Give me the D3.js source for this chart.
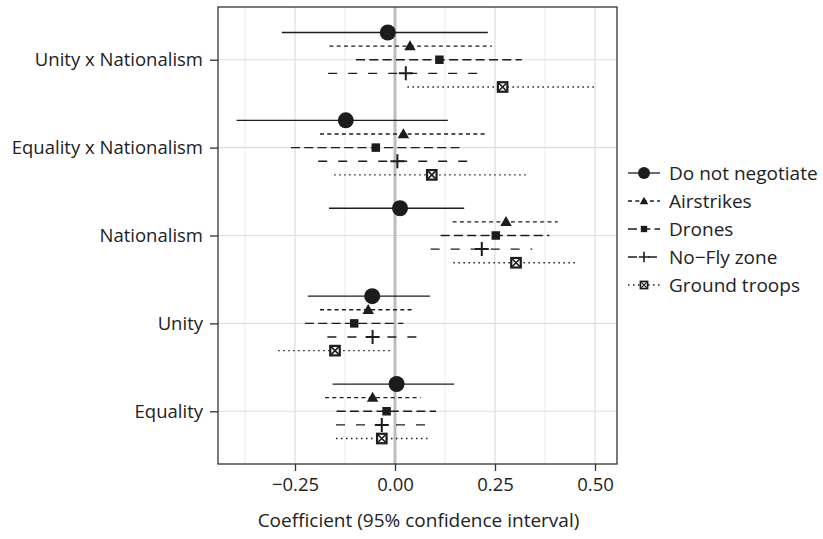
<!DOCTYPE html>
<html>
<head>
<meta charset="utf-8">
<script src="https://cdn.jsdelivr.net/npm/d3@7"></script>
<style>
  html, body { margin: 0; padding: 0; background: #fff; }
  svg { display: block; }
  text { font-family: "Open Sans", "Noto Sans", sans-serif; fill: #222; }
</style>
</head>
<body>
<svg id="chart" width="823" height="539"></svg>
<script>
// Predictors, listed bottom to top
const categories = ["Equality", "Unity", "Nationalism", "Equality x Nationalism", "Unity x Nationalism"];
const seriesNames = ["Do not negotiate", "Airstrikes", "Drones", "No\u2212Fly zone", "Ground troops"];

// Point estimates per series, in category order
const estDoNotNegotiate = [0.004, -0.057, 0.0125, -0.123, -0.018];
const estAirstrikes     = [-0.056, -0.067, 0.2775, 0.021, 0.0375];
const estDrones         = [-0.021, -0.102, 0.252, -0.048, 0.111];
const estNoFly          = [-0.033, -0.056, 0.217, 0.006, 0.027];
const estGround         = [-0.033, -0.150, 0.3025, 0.092, 0.269];

// Lower / upper 95% bounds
const loDoNotNegotiate = [-0.156, -0.218, -0.165, -0.396, -0.283];
const hiDoNotNegotiate = [0.148, 0.0875, 0.173, 0.132, 0.232];
const loAirstrikes     = [-0.175, -0.1875, 0.144, -0.1875, -0.164];
const hiAirstrikes     = [0.064, 0.050, 0.407, 0.227, 0.242];
const loDrones         = [-0.146, -0.225, 0.114, -0.260, -0.0975];
const hiDrones         = [0.1025, 0.021, 0.386, 0.164, 0.317];
const loNoFly          = [-0.1475, -0.169, 0.089, -0.192, -0.167];
const hiNoFly          = [0.0775, 0.057, 0.343, 0.183, 0.208];
const loGround         = [-0.1475, -0.292, 0.146, -0.152, 0.031];
const hiGround         = [0.082, -0.007, 0.4525, 0.335, 0.498];

const xTicks = [-0.25, 0, 0.25, 0.5];
const xMinor = [-0.375, -0.125, 0.125, 0.375];
const xTickLabels = ["\u22120.25", "0.00", "0.25", "0.50"];
const xTitle = "Coefficient (95% confidence interval)";

const estimates = [estDoNotNegotiate, estAirstrikes, estDrones, estNoFly, estGround];
const lows = [loDoNotNegotiate, loAirstrikes, loDrones, loNoFly, loGround];
const highs = [hiDoNotNegotiate, hiAirstrikes, hiDrones, hiNoFly, hiGround];

// Per-series drawing styles
const dashes = [null, "4,3.3", "9,4.3", "9,11", "1.5,3.5"];
const shapes = ["circle", "triangle", "square", "plus", "boxcross"];

const ink = "#1c1c1c";
const fontFamily = "'Open Sans', 'Noto Sans', sans-serif";
const fontSize = 18.5;
const svg = d3.select("#chart");

const panel = { left: 218, right: 617, top: 7, bottom: 464 };

const x = d3.scaleLinear().domain([-0.4425, 0.555]).range([panel.left, panel.right]);
const y = d3.scalePoint().domain(categories).range([panel.bottom, panel.top]).padding(0.6);
const dodge = y.step() * 0.155;

// Panel grid
const grid = svg.append("g");
grid.selectAll(".minor").data(xMinor).join("line")
  .attr("x1", d => x(d)).attr("x2", d => x(d))
  .attr("y1", panel.top).attr("y2", panel.bottom)
  .attr("stroke", "#ececec").attr("stroke-width", 1);
grid.selectAll(".major").data(xTicks).join("line")
  .attr("x1", d => x(d)).attr("x2", d => x(d))
  .attr("y1", panel.top).attr("y2", panel.bottom)
  .attr("stroke", "#dedede").attr("stroke-width", 1.2);
grid.selectAll(".hmajor").data(categories).join("line")
  .attr("x1", panel.left).attr("x2", panel.right)
  .attr("y1", d => y(d)).attr("y2", d => y(d))
  .attr("stroke", "#dedede").attr("stroke-width", 1.2);

// Reference line at zero
svg.append("line")
  .attr("x1", x(0)).attr("x2", x(0))
  .attr("y1", panel.top).attr("y2", panel.bottom)
  .attr("stroke", "#bdbdbd").attr("stroke-width", 3);

// Marker drawing
function drawMarker(g, shape, cx, cy, scale) {
  const s = scale || 1;
  if (shape === "circle") {
    g.append("circle").attr("cx", cx).attr("cy", cy).attr("r", 8 * s).attr("fill", ink);
  } else if (shape === "triangle") {
    const w = 11.5 * s, h = 10 * s;
    g.append("path")
      .attr("d", `M${cx - w / 2},${cy + h * 0.42}L${cx + w / 2},${cy + h * 0.42}L${cx},${cy - h * 0.58}Z`)
      .attr("fill", ink);
  } else if (shape === "square") {
    const a = 8.5 * s;
    g.append("rect").attr("x", cx - a / 2).attr("y", cy - a / 2).attr("width", a).attr("height", a).attr("fill", ink);
  } else if (shape === "plus") {
    const a = 7 * s;
    g.append("path")
      .attr("d", `M${cx - a},${cy}H${cx + a}M${cx},${cy - a}V${cy + a}`)
      .attr("stroke", ink).attr("stroke-width", 2 * Math.max(s, 0.8)).attr("fill", "none");
  } else if (shape === "boxcross") {
    const a = 9.5 * s;
    g.append("rect").attr("x", cx - a / 2).attr("y", cy - a / 2).attr("width", a).attr("height", a)
      .attr("fill", "#fff").attr("stroke", ink).attr("stroke-width", 2.2 * s);
    const b = a / 2 - 1;
    g.append("path")
      .attr("d", `M${cx - b},${cy - b}L${cx + b},${cy + b}M${cx - b},${cy + b}L${cx + b},${cy - b}`)
      .attr("stroke", ink).attr("stroke-width", 1.6 * s);
  }
}

// Intervals and estimates
seriesNames.forEach((name, si) => {
  const g = svg.append("g");
  const offset = (si - 2) * dodge;
  categories.forEach((cat, ci) => {
    const cy = y(cat) + offset;
    const line = g.append("line")
      .attr("x1", x(lows[si][ci])).attr("x2", x(highs[si][ci]))
      .attr("y1", cy).attr("y2", cy)
      .attr("stroke", ink).attr("stroke-width", 1.3);
    if (dashes[si]) line.attr("stroke-dasharray", dashes[si]);
  });
  categories.forEach((cat, ci) => {
    drawMarker(g, shapes[si], x(estimates[si][ci]), y(cat) + offset, 1);
  });
});

// Panel border
svg.append("rect")
  .attr("x", panel.left).attr("y", panel.top)
  .attr("width", panel.right - panel.left).attr("height", panel.bottom - panel.top)
  .attr("fill", "none").attr("stroke", "#333").attr("stroke-width", 1.3);

// Axes
const xAxis = d3.axisBottom(x).tickValues(xTicks).tickSize(7).tickPadding(7)
  .tickFormat((d, i) => xTickLabels[i]);
const gx = svg.append("g").attr("transform", `translate(0,${panel.bottom})`).call(xAxis);
gx.select(".domain").remove();
gx.selectAll("line").attr("stroke", "#333").attr("stroke-width", 1.3);
gx.selectAll("text").attr("font-size", fontSize).attr("fill", "#222")
  .attr("font-family", fontFamily);

const yAxis = d3.axisLeft(y).tickSize(8).tickPadding(7);
const gy = svg.append("g").attr("transform", `translate(${panel.left},0)`).call(yAxis);
gy.select(".domain").remove();
gy.selectAll("line").attr("stroke", "#333").attr("stroke-width", 1.3);
gy.selectAll("text").attr("font-size", fontSize).attr("fill", "#222")
  .attr("font-family", fontFamily);

svg.append("text")
  .attr("x", (panel.left + panel.right) / 2 + 1).attr("y", 527)
  .attr("text-anchor", "middle").attr("font-size", 19)
  .text(xTitle);

// Legend
const legend = svg.append("g");
const legY0 = 173, legStep = 28, keyX0 = 628, keyX1 = 660;
seriesNames.forEach((name, si) => {
  const cy = legY0 + si * legStep;
  const row = legend.append("g");
  const line = row.append("line")
    .attr("x1", keyX0).attr("x2", keyX1).attr("y1", cy).attr("y2", cy)
    .attr("stroke", ink).attr("stroke-width", 1.3);
  if (dashes[si]) line.attr("stroke-dasharray", dashes[si]);
  drawMarker(row, shapes[si], (keyX0 + keyX1) / 2, cy, 0.75);
  row.append("text")
    .attr("x", 669).attr("y", cy).attr("dy", "0.35em")
    .attr("font-size", 19)
    .text(name);
});
</script>
</body>
</html>
